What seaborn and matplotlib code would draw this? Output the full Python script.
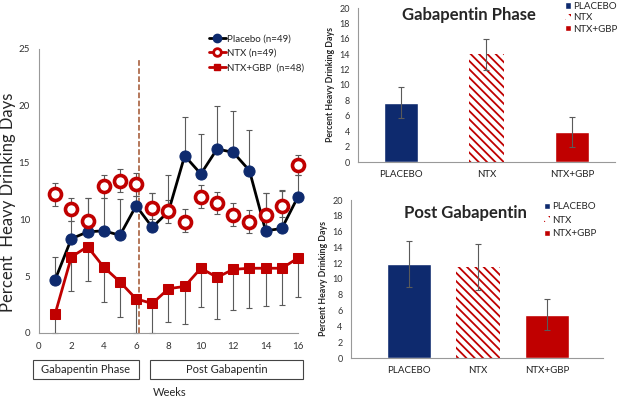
import numpy as np
import pandas as pd
import matplotlib
matplotlib.use("Agg")
import matplotlib.pyplot as plt
import seaborn as sns
from matplotlib.lines import Line2D
from matplotlib.patches import Patch, Rectangle

# weekly data
weeks = list(range(1, 17))
placebo_mean = [4.7, 8.3, 8.9, 9.0, 8.6, 11.2, 9.3, 10.7, 15.6, 14.0, 16.2, 15.9, 14.3, 9.0, 9.2, 12.0]
placebo_top = [6.7, 9.9, 11.9, 11.9, 11.8, 12.1, 12.3, 13.9, 19.0, 17.5, 20.0, 19.5, 17.9, 12.3, 12.5, 13.9]
ntx_mean = [12.2, 10.9, 9.9, 12.9, 13.4, 13.1, 11.0, 10.7, 9.8, 12.0, 11.4, 10.4, 9.8, 10.4, 11.2, 14.8]
ntx_low = [11.2, 9.9, 9.0, 11.9, 12.4, 12.1, 10.0, 9.7, 8.9, 11.0, 10.5, 9.4, 8.8, 9.0, 10.2, 13.9]
ntx_high = [13.2, 11.9, 11.9, 13.9, 14.4, 14.1, 12.3, 11.7, 10.9, 13.0, 12.4, 11.4, 10.8, 12.3, 12.6, 15.7]
gbp_mean = [1.7, 6.7, 7.6, 5.8, 4.5, 3.0, 2.6, 3.9, 4.1, 5.7, 4.9, 5.6, 5.7, 5.7, 5.7, 6.6]
gbp_low = [0.0, 3.7, 4.6, 2.7, 1.4, 0.0, 0.0, 1.0, 0.8, 2.3, 1.2, 2.0, 2.2, 2.4, 2.5, 3.2]

# phase summaries
groups = ["PLACEBO", "NTX", "NTX+GBP"]
phase_mean = [7.7, 14.0, 3.9]
phase_err = [2.0, 2.0, 2.0]
post_mean = [11.9, 11.5, 5.5]
post_err = [2.9, 2.9, 2.0]

navy = "#0E2A6E"
red = "#C00000"
grey = "#5a5a5a"

sns.set_style("white")
plt.rcParams["font.family"] = ["Lato", "DejaVu Sans"]
plt.rcParams["hatch.linewidth"] = 1.3

fig = plt.figure(figsize=(6.22, 4.0), dpi=100)

# ---- left: weekly lines
ax = fig.add_axes([0.0627, 0.1675, 0.4164, 0.71])
wk = np.array(weeks)
pm = np.array(placebo_mean)
ebkw = dict(fmt="none", ecolor=grey, elinewidth=0.8, capsize=2, capthick=0.8, zorder=1)
ax.errorbar(wk, pm, yerr=[np.zeros(16), np.array(placebo_top) - pm], **ebkw)
nm = np.array(ntx_mean)
ax.errorbar(wk, nm, yerr=[nm - np.array(ntx_low), np.array(ntx_high) - nm], **ebkw)
gm = np.array(gbp_mean)
ax.errorbar(wk, gm, yerr=[gm - np.array(gbp_low), np.zeros(16)], **ebkw)

df = pd.DataFrame({"week": weeks, "Placebo": placebo_mean, "NTX": ntx_mean, "GBP": gbp_mean})
sns.lineplot(data=df, x="week", y="Placebo", ax=ax, color="black", lw=2,
             marker="o", markersize=8, markerfacecolor=navy, markeredgecolor=navy, zorder=3)
sns.lineplot(data=df, x="week", y="GBP", ax=ax, color=red, lw=2,
             marker="s", markersize=7, markerfacecolor=red, markeredgecolor=red, zorder=3)
sns.scatterplot(data=df, x="week", y="NTX", ax=ax, s=75, facecolor="white",
                edgecolor=red, linewidth=2.6, zorder=4)
for art in ax.lines + ax.collections:
    art.set_clip_on(False)

ax.plot([6.15, 6.15], [0, 24.2], ls="--", color="#A0522D", lw=1.1, zorder=2)

ax.set_xlim(0, 16)
ax.set_ylim(0, 25)
ax.set_xticks(range(0, 17, 2))
ax.set_yticks(range(0, 26, 5))
ax.set_xlabel("")
ax.set_ylabel("Percent  Heavy Drinking Days", fontsize=12)
ax.yaxis.set_label_coords(-0.09, 0.46)
ax.tick_params(labelsize=7, colors="#333333", length=3, width=0.6, direction="out")
sns.despine(ax=ax)
for s in ["left", "bottom"]:
    ax.spines[s].set_color("#999999")
    ax.spines[s].set_linewidth(0.8)

handles = [
    Line2D([], [], color="black", lw=2, marker="o", markersize=6, markerfacecolor=navy, markeredgecolor=navy),
    Line2D([], [], color=red, lw=2, marker="o", markersize=5.5, markerfacecolor="white", markeredgecolor=red, markeredgewidth=2),
    Line2D([], [], color=red, lw=2, marker="s", markersize=5, markerfacecolor=red, markeredgecolor=red),
]
ax.legend(handles, ["Placebo (n=49)", "NTX (n=49)", "NTX+GBP  (n=48)"], loc="upper left",
          bbox_to_anchor=(0.64, 1.065), frameon=False, fontsize=7, handlelength=1.8,
          handletextpad=0.1, labelspacing=0.55, borderaxespad=0)

fig.patches.append(Rectangle((0.053, 0.0525), 0.170, 0.0475, transform=fig.transFigure,
                             fill=False, edgecolor="#444444", lw=0.8))
fig.patches.append(Rectangle((0.241, 0.0525), 0.246, 0.0475, transform=fig.transFigure,
                             fill=False, edgecolor="#444444", lw=0.8))
fig.text(0.138, 0.076, "Gabapentin Phase", ha="center", va="center", fontsize=8)
fig.text(0.364, 0.076, "Post Gabapentin", ha="center", va="center", fontsize=8)
fig.text(0.272, 0.02, "Weeks", ha="center", va="center", fontsize=8)


def bar_panel(rect, means, errs, width, xlim, title, title_xy, leg_anchor, leg_space):
    bx = fig.add_axes(rect)
    bdf = pd.DataFrame({"group": groups, "value": means})
    sns.barplot(data=bdf, x="group", y="value", hue="group", palette=[navy, red, red],
                width=width, saturation=1, legend=False, ax=bx)
    p = bx.patches[1]
    p.set_facecolor("white")
    p.set_edgecolor(red)
    p.set_linewidth(0)
    p.set_hatch("\\\\\\\\")
    bx.errorbar(range(3), means, yerr=errs, fmt="none", ecolor=grey, elinewidth=0.8,
                capsize=2, capthick=0.8, zorder=5)
    bx.set_xlim(*xlim)
    bx.set_ylim(0, 20)
    bx.set_yticks(range(0, 21, 2))
    bx.set_xlabel("")
    bx.set_ylabel("Percent Heavy Drinking Days", fontsize=6.3, fontweight="bold", labelpad=3)
    bx.tick_params(axis="y", labelsize=6.5, colors="#333333", length=2.5, width=0.6)
    bx.tick_params(axis="x", labelsize=7, colors="#222222", length=0, pad=6)
    sns.despine(ax=bx)
    for s in ["left", "bottom"]:
        bx.spines[s].set_color("#999999")
        bx.spines[s].set_linewidth(0.8)
    bx.text(title_xy[0], title_xy[1], title, transform=bx.transAxes, ha="center",
            va="center", fontsize=12, fontweight="bold")
    lh = [Patch(facecolor=navy), Patch(facecolor="white", edgecolor=red, hatch="\\\\\\", lw=0),
          Patch(facecolor=red)]
    bx.legend(lh, groups, loc="upper left", bbox_to_anchor=leg_anchor, frameon=False,
              fontsize=7, handlelength=0.6, handleheight=0.6, handletextpad=0.3,
              labelspacing=leg_space, borderaxespad=0)
    return bx


bar_panel([0.5756, 0.595, 0.413, 0.385], phase_mean, phase_err, 0.4, (-0.5, 2.5),
          "Gabapentin Phase", (0.43, 0.955), (0.79, 1.065), 0.25)
bar_panel([0.5643, 0.105, 0.405, 0.395], post_mean, post_err, 0.64, (-0.84, 2.81),
          "Post Gabapentin", (0.455, 0.92), (0.75, 1.01), 0.45)

fig.savefig("out.png", dpi=100)
